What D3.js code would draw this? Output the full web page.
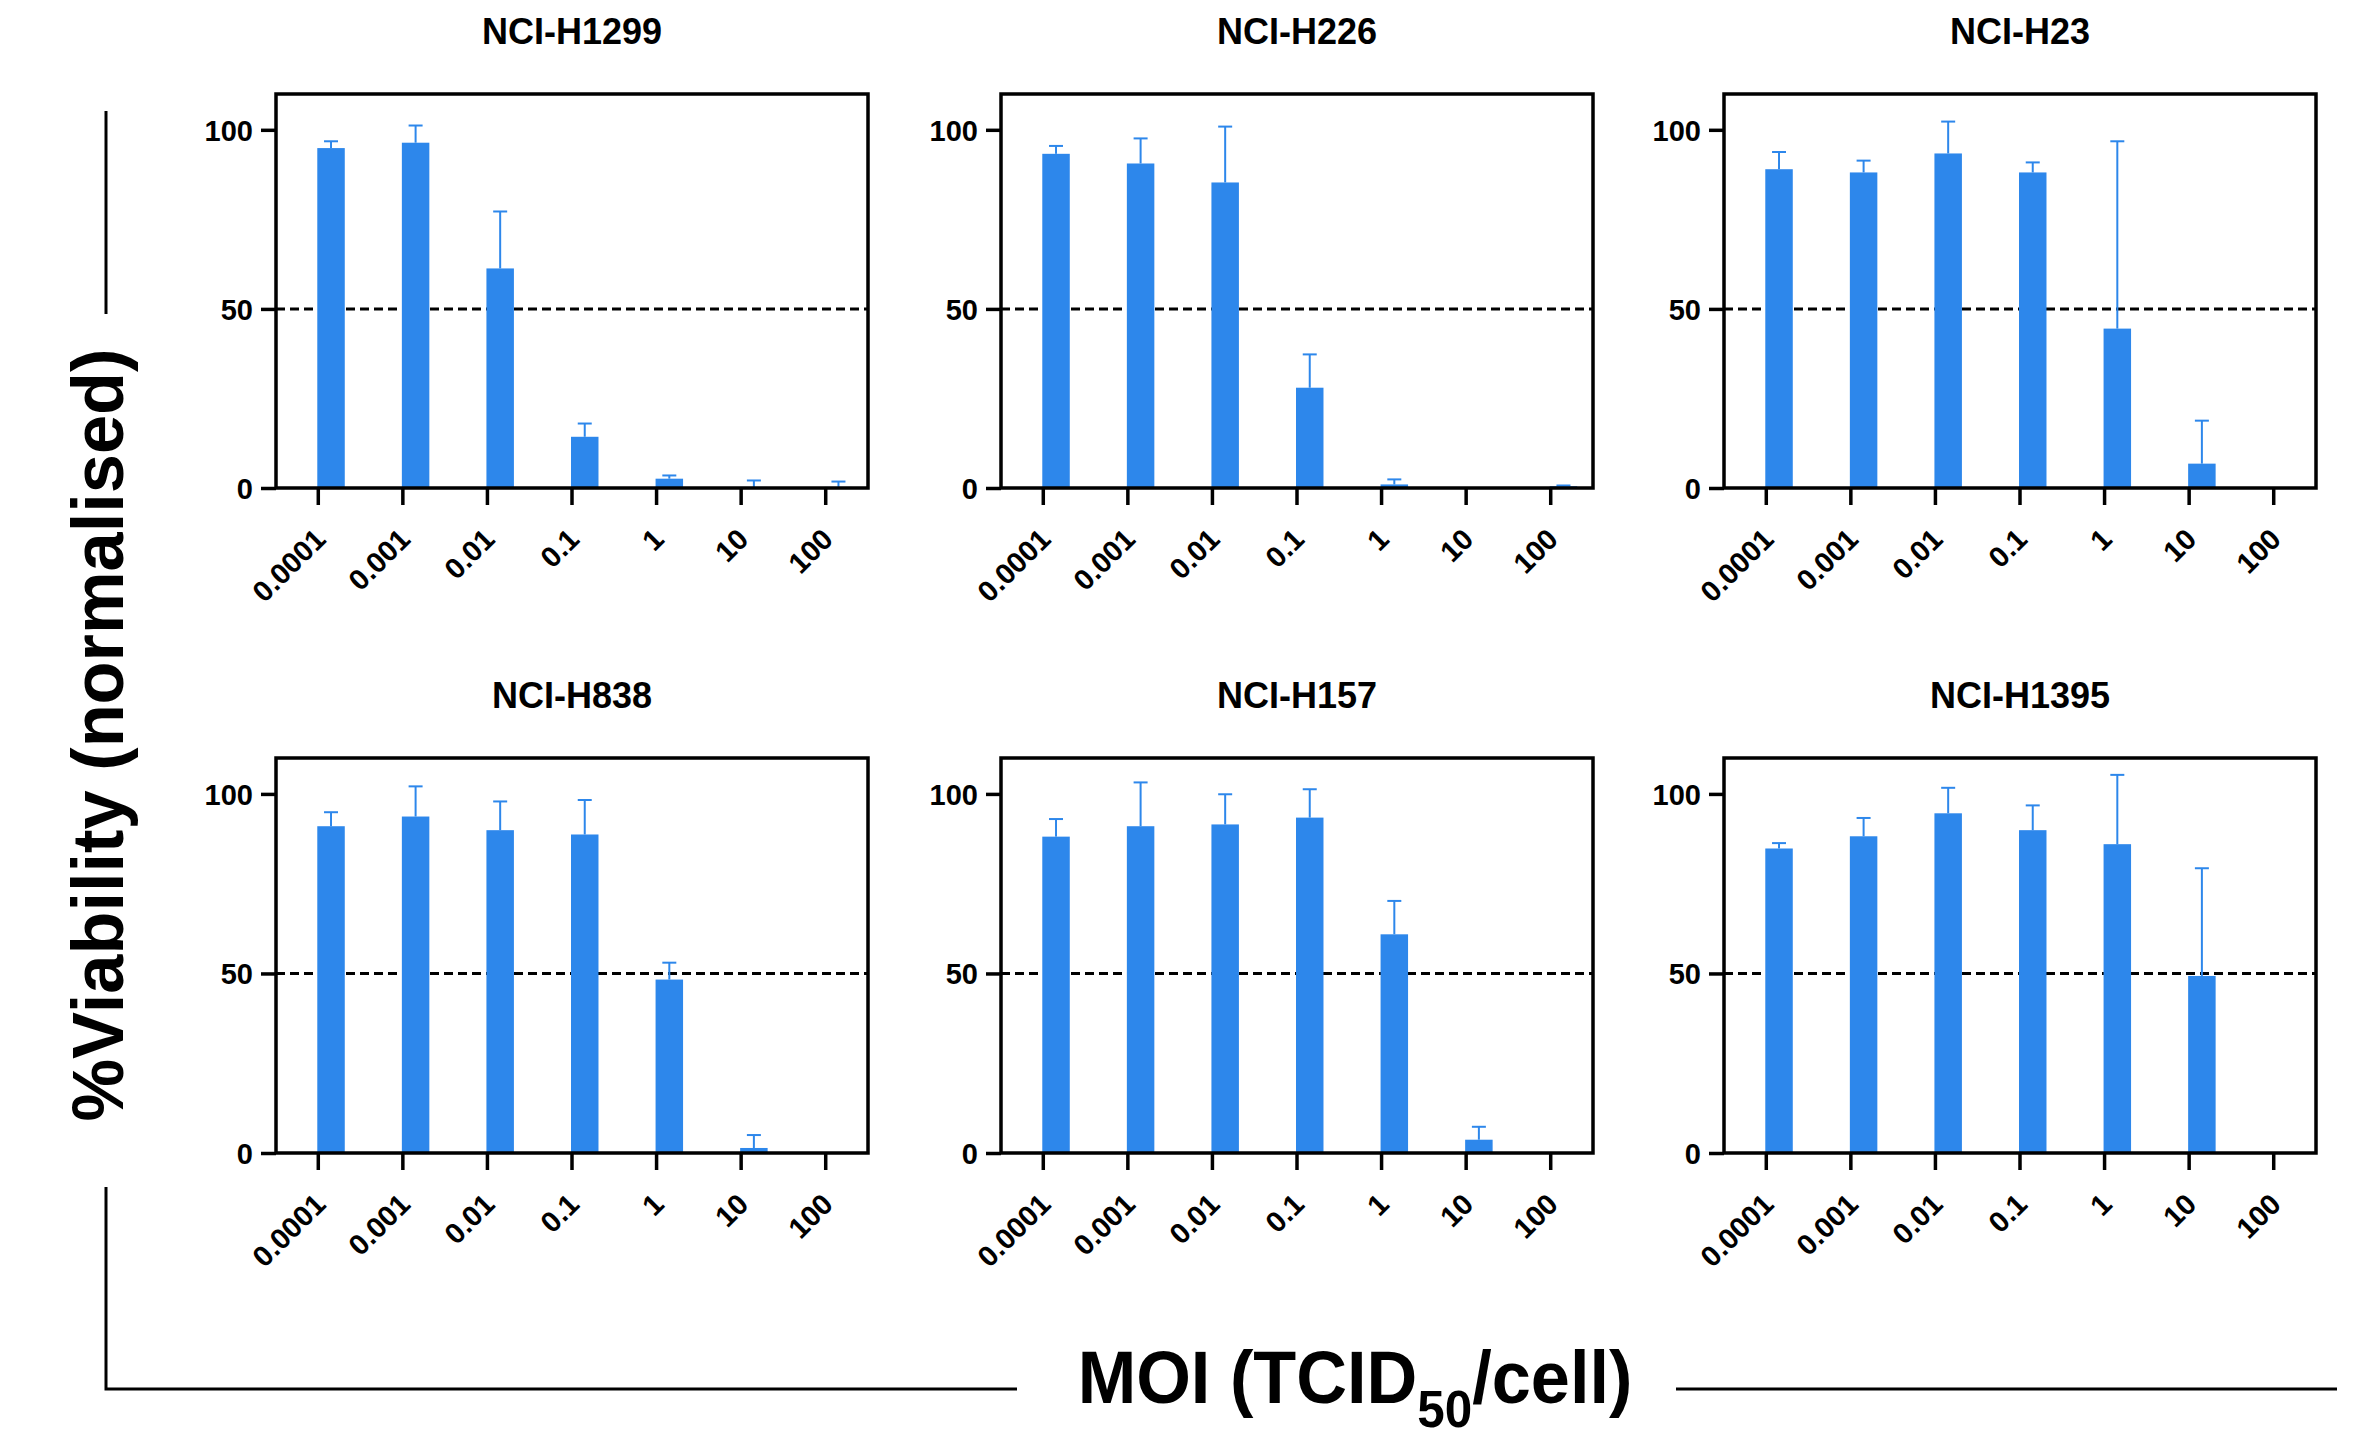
<!DOCTYPE html>
<html>
<head>
<meta charset="utf-8">
<script src="https://cdn.jsdelivr.net/npm/d3@7"></script>
<style>
  body { margin: 0; background: #fff; }
  text { font-family: "Liberation Sans", Arial, sans-serif; font-weight: bold; fill: #000; }
</style>
</head>
<body>
<div id="chart"></div>
<script>
// cell lines, one panel each
var cell_lines = ["NCI-H1299", "NCI-H226", "NCI-H23", "NCI-H838", "NCI-H157", "NCI-H1395"];
// MOI categories on the x axis
var moi_labels = ["0.0001", "0.001", "0.01", "0.1", "1", "10", "100"];
var y_ticks = [0, 50, 100];

// mean % viability per panel
var h1299_mean = [94.9, 96.4, 61.3, 14.3, 2.6, 0.3, 0.3];
var h226_mean  = [93.3, 90.6, 85.3, 28.0, 1.0, 0, 0.5];
var h23_mean   = [89.0, 88.1, 93.4, 88.1, 44.5, 6.8, 0.2];
var h838_mean  = [91.0, 93.7, 89.9, 88.7, 48.3, 1.4, 0];
var h157_mean  = [88.1, 91.0, 91.5, 93.4, 60.9, 3.7, 0];
var h1395_mean = [84.8, 88.2, 94.6, 89.9, 86.0, 49.3, 0];

// upper error (SD)
var h1299_err = [1.9, 4.8, 15.9, 3.7, 0.9, 1.8, 1.5];
var h226_err  = [2.2, 7.0, 15.6, 9.3, 1.4, 0, 0.2];
var h23_err   = [4.8, 3.3, 8.9, 2.8, 52.3, 12.0, 0];
var h838_err  = [3.9, 8.4, 8.0, 9.6, 4.7, 3.6, 0];
var h157_err  = [4.9, 12.2, 8.4, 7.9, 9.3, 3.6, 0];
var h1395_err = [1.5, 5.1, 7.1, 6.9, 19.3, 30.0, 0];

var means = [h1299_mean, h226_mean, h23_mean, h838_mean, h157_mean, h1395_mean];
var errs = [h1299_err, h226_err, h23_err, h838_err, h157_err, h1395_err];

const W = 2362, H = 1437;
const barColor = "#2d87eb";
// panel frames
var colLeft = [276, 1001, 1724], panelW = 592;
var rowTop = [94, 758], rowBottom = [488, 1153];

var svg = d3.select("#chart").append("svg")
    .attr("width", W).attr("height", H);

cell_lines.forEach(function(name, i) {
    var col = i % 3, row = Math.floor(i / 3);
    var x0 = colLeft[col], x1 = colLeft[col] + panelW, y0 = rowTop[row], y1 = rowBottom[row];

    var x = d3.scaleBand().domain(moi_labels).range([x0, x1]).padding(0);
    var y = d3.scaleLinear().domain([0, 110]).range([y1, y0]);
    var bw = x.bandwidth() * 0.325;
    var barX = d => x(d.moi) + x.bandwidth() / 2 - 1;

    var data = moi_labels.map(function(m, k) {
        return {moi: m, v: means[i][k], e: errs[i][k]};
    });

    var g = svg.append("g").attr("class", "panel");

    // title
    g.append("text")
        .attr("x", (x0 + x1) / 2)
        .attr("y", y0 - 50)
        .attr("text-anchor", "middle")
        .style("font-size", "36px")
        .text(name);

    // 50% reference line
    g.append("line")
        .attr("x1", x0).attr("x2", x1)
        .attr("y1", y(50)).attr("y2", y(50))
        .attr("stroke", "#000")
        .attr("stroke-width", 3)
        .attr("stroke-dasharray", "9,5");

    // bars
    g.selectAll("rect.bar").data(data).enter().append("rect")
        .attr("class", "bar")
        .attr("x", barX)
        .attr("width", bw)
        .attr("y", d => y(d.v))
        .attr("height", d => y(0) - y(d.v))
        .attr("fill", barColor);

    // error bars (upper only)
    var eb = g.selectAll("g.err").data(data.filter(d => d.e > 0)).enter().append("g")
        .attr("class", "err")
        .attr("stroke", barColor)
        .attr("stroke-width", 2);
    eb.append("line")
        .attr("x1", d => barX(d) + bw / 2)
        .attr("x2", d => barX(d) + bw / 2)
        .attr("y1", d => y(d.v))
        .attr("y2", d => y(d.v + d.e));
    eb.append("line")
        .attr("x1", d => barX(d) + bw / 2 - 7)
        .attr("x2", d => barX(d) + bw / 2 + 7)
        .attr("y1", d => y(d.v + d.e))
        .attr("y2", d => y(d.v + d.e));

    // y axis
    var ya = g.append("g")
        .attr("transform", "translate(" + x0 + ",0)")
        .call(d3.axisLeft(y).tickValues(y_ticks).tickSize(15).tickPadding(8));
    ya.select(".domain").remove();
    ya.selectAll(".tick line").attr("stroke", "#000").attr("stroke-width", 3.5);
    ya.selectAll(".tick text")
        .attr("dy", "0.36em")
        .style("font-size", "29px");

    // x axis
    var xa = g.append("g")
        .attr("transform", "translate(0," + y1 + ")")
        .call(d3.axisBottom(x).tickSize(17));
    xa.select(".domain").remove();
    xa.selectAll(".tick line").attr("stroke", "#000").attr("stroke-width", 3.5);
    xa.selectAll(".tick text")
        .attr("x", 0).attr("y", 0).attr("dy", 0)
        .attr("text-anchor", "end")
        .attr("transform", "translate(9,53) rotate(-45)")
        .style("font-size", "29px");

    // frame
    g.append("rect")
        .attr("x", x0).attr("y", y0)
        .attr("width", x1 - x0).attr("height", y1 - y0)
        .attr("fill", "none")
        .attr("stroke", "#000")
        .attr("stroke-width", 3.5);
});

// bracket lines around the shared axis titles
var bracket = svg.append("g").attr("stroke", "#000").attr("stroke-width", 3).attr("fill", "none");
bracket.append("line").attr("x1", 106).attr("x2", 106).attr("y1", 111).attr("y2", 314);
bracket.append("path").attr("d", "M106,1187 L106,1389 L1017,1389");
bracket.append("line").attr("x1", 1676).attr("x2", 2337).attr("y1", 1389).attr("y2", 1389);

// shared y title
svg.append("text")
    .attr("transform", "translate(123,735) rotate(-90)")
    .attr("text-anchor", "middle")
    .attr("textLength", 773)
    .attr("lengthAdjust", "spacingAndGlyphs")
    .style("font-size", "72px")
    .text("%Viability (normalised)");

// shared x title
var xt = svg.append("text")
    .attr("transform", "translate(1355,1403) scale(0.95,1)")
    .attr("text-anchor", "middle")
    .style("font-size", "74px");
xt.append("tspan").text("MOI (TCID");
xt.append("tspan").attr("dy", 24).style("font-size", "52px").text("50");
xt.append("tspan").attr("dy", -24).text("/cell)");
</script>
</body>
</html>
